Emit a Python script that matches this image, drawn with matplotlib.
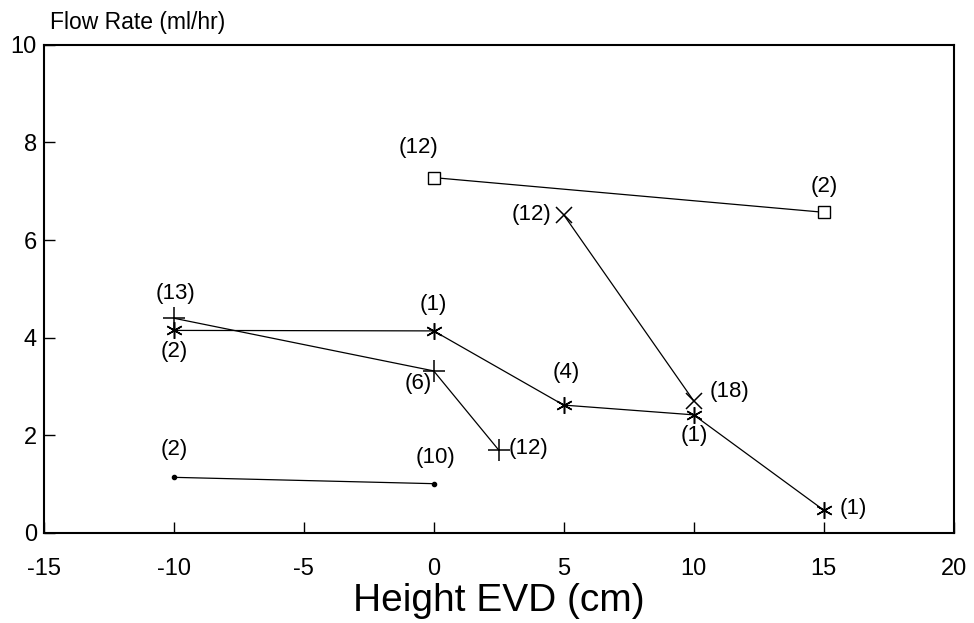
import matplotlib
matplotlib.use("Agg")
import matplotlib.pyplot as plt

plt.rcParams['font.family'] = ['Liberation Sans', 'DejaVu Sans']
plt.rcParams['axes.unicode_minus'] = False

# series (x = height in cm, y = flow rate ml/hr)
square_x = [0, 15]
square_y = [7.28, 6.57]
square_lbl = ["(12)", "(2)"]

cross_x = [5, 10]
cross_y = [6.52, 2.71]
cross_lbl = ["(12)", "(18)"]

star_x = [-10, 0, 5, 10, 15]
star_y = [4.15, 4.14, 2.62, 2.42, 0.47]
star_lbl = ["(2)", "(1)", "(4)", "(1)", "(1)"]

plus_x = [-10, 0, 2.5]
plus_y = [4.40, 3.32, 1.70]
plus_lbl = ["(13)", "(6)", "(12)"]

dot_x = [-10, 0]
dot_y = [1.14, 1.01]
dot_lbl = ["(2)", "(10)"]

x_ticks = [-15, -10, -5, 0, 5, 10, 15, 20]
y_ticks = [0, 2, 4, 6, 8, 10]

fig = plt.figure(figsize=(9.74, 6.23), dpi=100)
ax = fig.add_axes([0.045, 0.1445, 0.934, 0.7835])

lw = 0.9
ax.plot(square_x, square_y, color='black', lw=lw, marker='s', ms=8,
        mfc='white', mec='black', mew=1.0)
ax.plot(cross_x, cross_y, color='black', lw=lw, marker='x', ms=11, mew=1.1)
ax.plot(star_x, star_y, color='black', lw=lw, marker=(6, 2, 0), ms=12, mew=1.1)
ax.plot(plus_x, plus_y, color='black', lw=lw, marker='+', ms=16, mew=1.1)
ax.plot(dot_x, dot_y, color='black', lw=lw, marker='o', ms=3)

# label offsets in pixels (dx, dy, ha)
def put(xs, ys, labels, offs):
    for x, y, s, (dx, dy, ha) in zip(xs, ys, labels, offs):
        ax.annotate(s, (x, y), xytext=(dx, dy), textcoords='offset pixels',
                    ha=ha, va='center', fontsize=16)

put(square_x, square_y, square_lbl, [(-15, 30, 'center'), (1, 26, 'center')])
put(cross_x, cross_y, cross_lbl, [(-12, 0, 'right'), (16, 9, 'left')])
put(star_x, star_y, star_lbl, [(0, -21, 'center'), (0, 26, 'center'),
                               (3, 33, 'center'), (1, -21, 'center'),
                               (16, 2, 'left')])
put(plus_x, plus_y, plus_lbl, [(2, 25, 'center'), (-15, -13, 'center'),
                               (10, 1, 'left')])
put(dot_x, dot_y, dot_lbl, [(0, 28, 'center'), (2, 26, 'center')])

ax.set_xlim(-15, 20)
ax.set_ylim(0, 10)
ax.set_xticks(x_ticks)
ax.set_yticks(y_ticks)
ax.tick_params(axis='x', direction='in', length=8, width=1, pad=18, labelsize=17)
ax.tick_params(axis='y', direction='in', length=8, width=1, pad=5, labelsize=17)
for sp in ax.spines.values():
    sp.set_linewidth(1.5)

ax.set_xlabel("Height EVD (cm)", fontsize=28, labelpad=2)
fig.text(50 / 974, 1 - 22 / 623, "Flow Rate (ml/hr)", ha='left', va='center',
         fontsize=16.5)

fig.savefig("out.png", dpi=100, facecolor='white')
